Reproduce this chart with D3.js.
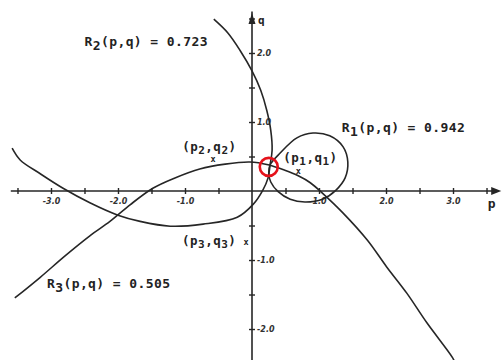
<!DOCTYPE html>
<html>
<head>
<meta charset="utf-8">
<script src="https://cdn.jsdelivr.net/npm/d3@7"></script>
<style>
  html, body { margin: 0; padding: 0; background: #fff; }
  svg { display: block; }
  .lbl { font-family: "DejaVu Sans Mono", monospace; font-weight: bold; fill: #222; }
  .tick text { font-family: "DejaVu Sans", sans-serif; font-weight: bold; font-style: italic; fill: #333; }
</style>
</head>
<body>
<svg id="chart" width="503" height="360"></svg>
<script>
// Level curve R1(p,q) = 0.942 (closed loop), as (p, q) pairs
const curveR1 = [
  [0.27, 0.38], [0.42, 0.55], [0.67, 0.77], [0.91, 0.84], [1.16, 0.80],
  [1.36, 0.64], [1.43, 0.42], [1.39, 0.19], [1.25, 0.01], [1.05, -0.12],
  [0.79, -0.16], [0.57, -0.12], [0.39, -0.01], [0.28, 0.13], [0.25, 0.26]
];
// Level curve R2(p,q) = 0.723
const curveR2 = [
  [-3.58, 0.62], [-3.46, 0.45], [-3.16, 0.25], [-2.82, 0.04], [-2.42, -0.17],
  [-2.00, -0.35], [-1.67, -0.44], [-1.22, -0.51], [-0.73, -0.48], [-0.22, -0.38],
  [0.02, -0.19], [0.16, 0.01], [0.24, 0.19], [0.27, 0.38], [0.30, 0.59],
  [0.28, 0.88], [0.22, 1.17], [0.13, 1.46], [0.00, 1.74], [-0.18, 2.04],
  [-0.36, 2.29], [-0.57, 2.49]
];
// Level curve R3(p,q) = 0.505
const curveR3 = [
  [-3.54, -1.55], [-3.16, -1.25], [-2.79, -0.94], [-2.42, -0.65], [-2.12, -0.44],
  [-1.82, -0.20], [-1.48, 0.04], [-1.15, 0.19], [-0.78, 0.32], [-0.40, 0.39],
  [-0.03, 0.42], [0.24, 0.38], [0.49, 0.30], [0.69, 0.22], [0.87, 0.12],
  [1.05, -0.03], [1.36, -0.32], [1.72, -0.71], [2.01, -1.10], [2.31, -1.48],
  [2.61, -1.91], [2.99, -2.41], [3.03, -2.49]
];
// Marked points
const markNames = ["p1,q1", "p2,q2", "p3,q3"];
const markP = [0.69, -0.58, -0.09];
const markQ = [0.29, 0.46, -0.74];
// Common crossing point of the three curves
const crossPoint = [0.25, 0.35];
// Axis ticks
const pTicks = [-3.5, -3, -2.5, -2, -1.5, -1, -0.5, 0.5, 1, 1.5, 2, 2.5, 3, 3.5];
const qTicks = [-2.5, -2, -1.5, -1, -0.5, 0.5, 1, 1.5, 2, 2.5];
const pLabels = [-3, -2, -1, 1, 2, 3];
const qLabels = [-2, -1, 1, 2];
// Curve annotations
const levelNames = ["R1", "R2", "R3"];
const levelValues = ["0.942", "0.723", "0.505"];

const W = 503, H = 360;
const svg = d3.select("#chart");
const x = d3.scaleLinear().domain([-3.761, 3.746]).range([0, W]);
const y = d3.scaleLinear().domain([2.768, -2.449]).range([0, H]);

const ink = "#262626";

// p axis
const xAxis = d3.axisBottom(x).tickValues(pTicks).tickSize(3)
  .tickFormat(d => pLabels.includes(d) ? d3.format(".1f")(d).replace("−", "-") : "");
const gx = svg.append("g").attr("transform", `translate(0,${y(0)})`).call(xAxis);
gx.select(".domain").remove();
gx.selectAll(".tick line").attr("y1", -3).attr("y2", 3).attr("stroke", ink).attr("stroke-width", 1.4);
gx.selectAll(".tick text").attr("y", 7).attr("font-size", 8);
svg.append("line").attr("x1", x(-3.6)).attr("x2", x(3.66)).attr("y1", y(0)).attr("y2", y(0))
  .attr("stroke", ink).attr("stroke-width", 1.6);
svg.append("path")
  .attr("d", `M${x(3.72)},${y(0)} L${x(3.57)},${y(0) - 4} L${x(3.57)},${y(0) + 4} Z`)
  .attr("fill", ink);
svg.append("text").attr("class", "lbl").attr("x", x(3.52)).attr("y", y(0) + 17)
  .attr("font-size", 13).text("p");

// q axis
const yAxis = d3.axisRight(y).tickValues(qTicks).tickSize(3)
  .tickFormat(d => qLabels.includes(d) ? d3.format(".1f")(d).replace("−", "-") : "");
const gy = svg.append("g").attr("transform", `translate(${x(0)},0)`).call(yAxis);
gy.select(".domain").remove();
gy.selectAll(".tick line").attr("x1", -3).attr("x2", 3).attr("stroke", ink).attr("stroke-width", 1.4);
gy.selectAll(".tick text").attr("x", 5).attr("font-size", 8);
svg.append("line").attr("x1", x(0)).attr("x2", x(0)).attr("y1", y(2.6)).attr("y2", y(-2.449))
  .attr("stroke", ink).attr("stroke-width", 1.6);
svg.append("path")
  .attr("d", `M${x(0)},${y(2.58)} L${x(0) - 3.5},${y(2.42)} L${x(0) + 3.5},${y(2.42)} Z`)
  .attr("fill", ink);
svg.append("text").attr("class", "lbl").attr("x", x(0) + 6).attr("y", y(2.42))
  .attr("font-size", 11).text("q");

// level curves
const open = d3.line().x(d => x(d[0])).y(d => y(d[1])).curve(d3.curveCatmullRom.alpha(0.5));
const closed = d3.line().x(d => x(d[0])).y(d => y(d[1])).curve(d3.curveCatmullRomClosed.alpha(0.5));
[[curveR2, open], [curveR3, open], [curveR1, closed]].forEach(([pts, gen]) => {
  svg.append("path").attr("d", gen(pts)).attr("fill", "none")
    .attr("stroke", ink).attr("stroke-width", 1.6);
});

// point markers and their labels
const markAnchor = [
  { dx: -15, dy: -9 },
  { dx: -31, dy: -8 },
  { dx: -64, dy: 3 }
];
markNames.forEach((name, i) => {
  const px = x(markP[i]), py = y(markQ[i]);
  svg.append("text").attr("class", "lbl").attr("x", px).attr("y", py + 3)
    .attr("text-anchor", "middle").attr("font-size", 8.5).text("x");
  const [a, b] = name.split(",");
  const t = svg.append("text").attr("class", "lbl").attr("font-size", 12.5)
    .attr("letter-spacing", 0.5)
    .attr("x", px + markAnchor[i].dx).attr("y", py + markAnchor[i].dy);
  t.append("tspan").text("(" + a[0]);
  t.append("tspan").attr("dy", 3).attr("font-size", 11).text(a.slice(1));
  t.append("tspan").attr("dy", -3).text("," + b[0]);
  t.append("tspan").attr("dy", 3).attr("font-size", 11).text(b.slice(1));
  t.append("tspan").attr("dy", -3).text(")");
});

// level annotations
const levelPos = [[1.34, 0.85], [-2.5, 2.1], [-3.06, -1.4]];
levelNames.forEach((name, i) => {
  const t = svg.append("text").attr("class", "lbl").attr("font-size", 13)
    .attr("letter-spacing", 0.4)
    .attr("x", x(levelPos[i][0])).attr("y", y(levelPos[i][1]));
  t.append("tspan").text(name[0]);
  t.append("tspan").attr("dy", 4).text(name[1]);
  t.append("tspan").attr("dy", -4).text(`(p,q) = ${levelValues[i]}`);
});

// highlight ring on the common crossing
svg.append("circle").attr("cx", x(crossPoint[0])).attr("cy", y(crossPoint[1])).attr("r", 9)
  .attr("fill", "none").attr("stroke", "#e5121b").attr("stroke-width", 2.6);
</script>
</body>
</html>
